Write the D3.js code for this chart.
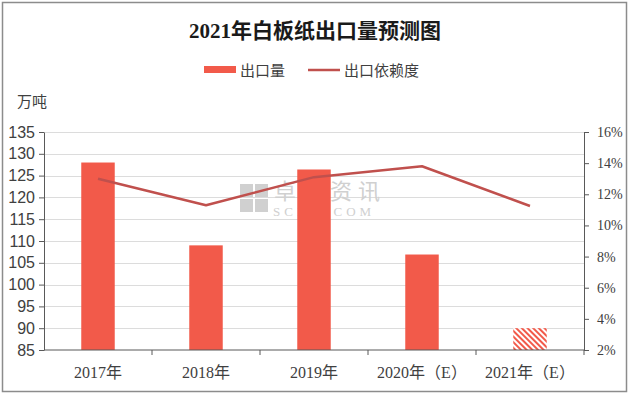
<!DOCTYPE html>
<html>
<head>
<meta charset="utf-8">
<script src="https://cdn.jsdelivr.net/npm/d3@7"></script>
<style>
  body { margin: 0; background: #fff; }
  svg { display: block; }
  .axis path, .axis line { stroke: #595959; }
  .axis text { fill: #404040; }
</style>
</head>
<body>
<div id="chart"></div>
<script>
// chart data
const categories = ['2017年', '2018年', '2019年', '2020年（E）', '2021年（E）'];
const exportVolume = [128, 109, 126.4, 106.9, 90];      // 万吨
const exportDependency = [13.0, 11.3, 13.1, 13.8, 11.25]; // %
const forecastFlags = [false, false, false, false, true];
const leftTicks = [85, 90, 95, 100, 105, 110, 115, 120, 125, 130, 135];
const rightTicks = [2, 4, 6, 8, 10, 12, 14, 16];

const BAR_COLOR = '#f25a4a';
const LINE_COLOR = '#c0504d';

function createChart() {
    const W = 630, H = 395;
    const plot = { left: 44, right: 584, top: 132, bottom: 350 };

    const svg = d3.select('#chart')
        .append('svg')
        .attr('width', W)
        .attr('height', H);

    // hatch for the forecast bar
    const defs = svg.append('defs');
    const pat = defs.append('pattern')
        .attr('id', 'hatch')
        .attr('patternUnits', 'userSpaceOnUse')
        .attr('width', 4)
        .attr('height', 4)
        .attr('patternTransform', 'rotate(-45)');
    pat.append('rect').attr('width', 4).attr('height', 4).attr('fill', '#fff');
    pat.append('rect').attr('width', 2).attr('height', 4).attr('fill', BAR_COLOR);

    // outer frame
    svg.append('rect')
        .attr('x', 2.5).attr('y', 2.5)
        .attr('width', 624).attr('height', 389)
        .attr('fill', '#fff')
        .attr('stroke', '#8c8c8c')
        .attr('stroke-width', 1.5);

    // scales
    const x = d3.scaleBand()
        .domain(categories)
        .range([plot.left, plot.right]);

    const yLeft = d3.scaleLinear()
        .domain([85, 135])
        .range([plot.bottom, plot.top]);

    const yRight = d3.scaleLinear()
        .domain([2, 16])
        .range([plot.bottom, plot.top]);

    // gridlines
    svg.append('g')
        .attr('class', 'grid')
        .selectAll('line')
        .data(leftTicks.slice(1))
        .enter()
        .append('line')
        .attr('x1', plot.left)
        .attr('x2', plot.right)
        .attr('y1', d => Math.round(yLeft(d)) + 0.5)
        .attr('y2', d => Math.round(yLeft(d)) + 0.5)
        .attr('stroke', '#dcdcdc');

    // watermark
    const wm = svg.append('g');
    [[0, 0], [15, 0], [0, 15], [15, 15]].forEach(([dx, dy]) => {
        wm.append('rect')
            .attr('x', 240 + dx).attr('y', 184 + dy)
            .attr('width', 13).attr('height', 13)
            .attr('fill', '#d0d0d0');
    });
    wm.append('text')
        .attr('x', 274).attr('y', 199)
        .style('font-family', '"Noto Sans CJK SC"')
        .style('font-size', '22px')
        .style('letter-spacing', '6px')
        .attr('fill', '#d0d0d0')
        .text('卓创资讯');
    wm.append('text')
        .attr('x', 273).attr('y', 216)
        .style('font-family', '"Liberation Serif"')
        .style('font-size', '13px')
        .style('letter-spacing', '4px')
        .attr('fill', '#d0d0d0')
        .text('SCI99.COM');

    // bars
    const barW = x.bandwidth() * 0.31;
    svg.selectAll('.bar')
        .data(categories)
        .enter()
        .append('rect')
        .attr('class', 'bar')
        .attr('x', d => x(d) + (x.bandwidth() - barW) / 2)
        .attr('width', barW)
        .attr('y', (d, i) => yLeft(exportVolume[i]))
        .attr('height', (d, i) => plot.bottom - yLeft(exportVolume[i]))
        .attr('fill', (d, i) => forecastFlags[i] ? 'url(#hatch)' : BAR_COLOR);

    // dependency line
    const line = d3.line()
        .x((d, i) => x(categories[i]) + x.bandwidth() / 2)
        .y(d => yRight(d));

    svg.append('path')
        .datum(exportDependency)
        .attr('d', line)
        .attr('fill', 'none')
        .attr('stroke', LINE_COLOR)
        .attr('stroke-width', 2.5)
        .attr('stroke-linejoin', 'round');

    // axes
    const leftAxis = svg.append('g')
        .attr('class', 'axis')
        .attr('transform', `translate(${plot.left},0)`)
        .call(d3.axisLeft(yLeft).tickValues(leftTicks).tickSize(5).tickSizeOuter(0).tickPadding(4));
    leftAxis.selectAll('text')
        .style('font-family', '"Liberation Sans", Arial')
        .style('font-size', '16px');

    const rightAxis = svg.append('g')
        .attr('class', 'axis')
        .attr('transform', `translate(${plot.right},0)`)
        .call(d3.axisRight(yRight).tickValues(rightTicks).tickSize(5).tickSizeOuter(0)
            .tickPadding(8).tickFormat(d => d + '%'));
    rightAxis.selectAll('text')
        .style('font-family', '"Liberation Serif"')
        .style('font-size', '14px');

    const xAxis = svg.append('g')
        .attr('class', 'axis')
        .attr('transform', `translate(0,${plot.bottom})`);
    xAxis.append('line')
        .attr('x1', plot.left).attr('x2', plot.right)
        .attr('stroke', '#595959');
    xAxis.selectAll('.tick-mark')
        .data(categories.slice(1).concat(['end']))
        .enter()
        .append('line')
        .attr('x1', d => d === 'end' ? plot.right : x(d))
        .attr('x2', d => d === 'end' ? plot.right : x(d))
        .attr('y1', 0).attr('y2', 5)
        .attr('stroke', '#595959');
    xAxis.selectAll('.xlabel')
        .data(categories)
        .enter()
        .append('text')
        .attr('x', d => x(d) + x.bandwidth() / 2)
        .attr('y', 28)
        .attr('text-anchor', 'middle')
        .style('font-family', '"Liberation Serif", "Noto Sans CJK SC"')
        .style('font-size', '16px')
        .attr('fill', '#404040')
        .text(d => d);

    // unit label
    svg.append('text')
        .attr('x', 17).attr('y', 107)
        .style('font-family', '"Noto Sans CJK SC"')
        .style('font-size', '15px')
        .attr('fill', '#404040')
        .text('万吨');

    // title
    svg.append('text')
        .attr('x', 315).attr('y', 38)
        .attr('text-anchor', 'middle')
        .style('font-family', '"Liberation Serif", "Noto Sans CJK SC"')
        .style('font-size', '21px')
        .style('font-weight', 'bold')
        .attr('fill', '#1a1a1a')
        .text('2021年白板纸出口量预测图');

    // legend
    const legend = svg.append('g').attr('transform', 'translate(0,70)');
    legend.append('rect')
        .attr('x', 204).attr('y', -4)
        .attr('width', 32).attr('height', 7)
        .attr('fill', BAR_COLOR);
    legend.append('text')
        .attr('x', 240).attr('y', 6)
        .style('font-family', '"Noto Sans CJK SC"')
        .style('font-size', '15px')
        .attr('fill', '#404040')
        .text('出口量');
    legend.append('line')
        .attr('x1', 308).attr('x2', 340)
        .attr('y1', 0).attr('y2', 0)
        .attr('stroke', LINE_COLOR)
        .attr('stroke-width', 2.5);
    legend.append('text')
        .attr('x', 344).attr('y', 6)
        .style('font-family', '"Noto Sans CJK SC"')
        .style('font-size', '15px')
        .attr('fill', '#404040')
        .text('出口依赖度');
}

createChart();
</script>
</body>
</html>
